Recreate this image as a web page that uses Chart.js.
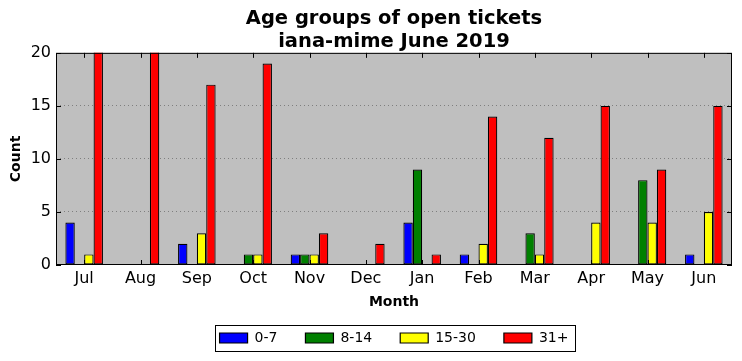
<!DOCTYPE html>
<html>
<head>
<meta charset="utf-8">
<script src="https://cdn.jsdelivr.net/npm/chart.js@4.4.0/dist/chart.umd.min.js"></script>
<style>
  html, body { margin: 0; padding: 0; background: #fff; }
  #wrap { width: 742px; height: 361px; }
</style>
</head>
<body>
<div id="wrap"><canvas id="myChart" width="742" height="361"></canvas></div>
<script>
// months (Jul 2018 .. Jun 2019)
var months = ["Jul", "Aug", "Sep", "Oct", "Nov", "Dec", "Jan", "Feb", "Mar", "Apr", "May", "Jun"];

// open tickets per age group
var age0to7   = [4, 0, 2, 0, 1, 0, 4, 1, 0, 0, 0, 1];
var age8to14  = [0, 0, 0, 1, 1, 0, 9, 0, 3, 0, 8, 0];
var age15to30 = [1, 0, 3, 1, 1, 0, 0, 2, 1, 4, 4, 5];
var age31plus = [21, 21, 17, 19, 3, 2, 1, 14, 12, 15, 9, 15]; // Jul/Aug run off the top

var yTicks = [0, 5, 10, 15, 20];

var FONT = "'DejaVu Sans', sans-serif";

// grey plot area, frame and inward tick marks like the original
var axesLook = {
  id: 'axesLook',
  beforeLayout: function(chart) {
    // legend keeps its wide item spacing but a shorter box
    var lg = chart.legend;
    if (lg && !lg._shortened) {
      var fit = lg.fit;
      lg.fit = function() { fit.call(this); this.height = 48; };
      lg._shortened = true;
    }
  },
  afterLayout: function(chart) {
    // centre title and legend over the plot area, pull legend up a bit
    var a = chart.chartArea;
    var tb = chart.titleBlock;
    tb.left = a.left; tb.right = a.right; tb.width = a.right - a.left;
    var lg = chart.legend;
    lg.left = a.left; lg.right = a.right; lg.width = a.right - a.left;
    lg.top = 303; lg.bottom = lg.top + lg.height;
  },
  beforeDraw: function(chart) {
    var a = chart.chartArea, ctx = chart.ctx;
    ctx.save();
    ctx.fillStyle = '#bfbfbf';
    ctx.fillRect(a.left, a.top, a.right - a.left, a.bottom - a.top);
    ctx.restore();
  },
  afterDatasetsDraw: function(chart) {
    var a = chart.chartArea, ctx = chart.ctx;
    var x = chart.scales.x, y = chart.scales.y;
    ctx.save();
    ctx.strokeStyle = '#000';
    ctx.lineWidth = 1;
    ctx.strokeRect(a.left + 0.5, a.top + 0.5, a.right - a.left - 1, a.bottom - a.top - 1);
    ctx.beginPath();
    months.forEach(function(m, i) {
      var px = Math.round(x.getPixelForValue(i)) + 0.5;
      ctx.moveTo(px, a.bottom); ctx.lineTo(px, a.bottom - 5);
      ctx.moveTo(px, a.top); ctx.lineTo(px, a.top + 5);
    });
    yTicks.forEach(function(v) {
      var py = Math.round(y.getPixelForValue(v)) + 0.5;
      ctx.moveTo(a.left, py); ctx.lineTo(a.left + 5, py);
      ctx.moveTo(a.right, py); ctx.lineTo(a.right - 5, py);
    });
    ctx.stroke();
    ctx.restore();
  },
  afterDraw: function(chart) {
    // frame around the legend entries
    var boxes = chart.legend.legendHitBoxes;
    if (!boxes || !boxes.length) return;
    var l = boxes[0].left, r = boxes[0].left + boxes[0].width;
    var t = boxes[0].top, b = boxes[0].top + boxes[0].height;
    boxes.forEach(function(h) {
      l = Math.min(l, h.left); r = Math.max(r, h.left + h.width);
      t = Math.min(t, h.top); b = Math.max(b, h.top + h.height);
    });
    var ctx = chart.ctx;
    ctx.save();
    ctx.strokeStyle = '#000';
    ctx.lineWidth = 1;
    ctx.strokeRect(Math.round(l - 5) + 0.5, Math.round(t - 6) + 0.5, Math.round(r - l + 11), Math.round(b - t + 12));
    ctx.restore();
  }
};

function ds(label, data, color) {
  return {
    label: label,
    data: data,
    backgroundColor: color,
    borderColor: '#000',
    borderWidth: 1.2,
    borderSkipped: false
  };
}

var ctx = document.getElementById('myChart').getContext('2d');
var chart = new Chart(ctx, {
  type: 'bar',
  data: {
    labels: months,
    datasets: [
      ds('0-7', age0to7, '#0000ff'),
      ds('8-14', age8to14, '#008000'),
      ds('15-30', age15to30, '#ffff00'),
      ds('31+', age31plus, '#ff0000')
    ]
  },
  plugins: [axesLook],
  options: {
    responsive: false,
    animation: false,
    datasets: { bar: { categoryPercentage: 0.667, barPercentage: 1.0 } },
    layout: { padding: { left: 8, right: 10, top: 0, bottom: 0 } },
    plugins: {
      title: {
        display: true,
        text: ['Age groups of open tickets', 'iana-mime June 2019'],
        color: '#000',
        font: { family: FONT, size: 19.5, weight: 'bold', lineHeight: 1.15 },
        padding: { top: 8, bottom: 0 }
      },
      legend: {
        position: 'bottom',
        labels: {
          color: '#000',
          font: { family: FONT, size: 14 },
          boxWidth: 28,
          boxHeight: 10,
          padding: 28
        }
      },
      tooltip: { enabled: false }
    },
    scales: {
      x: {
        afterFit: function(scale) { scale.height = 48; },
        grid: { display: false, drawTicks: false },
        border: { display: false },
        ticks: { color: '#000', font: { family: FONT, size: 16 }, padding: 4, maxRotation: 0 },
        title: { display: true, text: 'Month', color: '#000', font: { family: FONT, size: 14, weight: 'bold' }, padding: { top: 2, bottom: 2 } }
      },
      y: {
        min: 0,
        max: 20,
        afterFit: function(scale) { scale.width = 48; },
        afterBuildTicks: function(scale) {
          scale.ticks = yTicks.map(function(v) { return { value: v }; });
        },
        grid: {
          drawTicks: false,
          color: function(c) { return (c.tick.value === 0 || c.tick.value === 20) ? 'rgba(0,0,0,0)' : '#7f7f7f'; }
        },
        border: { display: false, dash: [1, 3] },
        ticks: { color: '#000', font: { family: FONT, size: 16 }, padding: 5 },
        title: { display: true, text: 'Count', color: '#000', font: { family: FONT, size: 14, weight: 'bold' }, padding: { top: 0, bottom: 4 } }
      }
    }
  }
});
</script>
</body>
</html>
